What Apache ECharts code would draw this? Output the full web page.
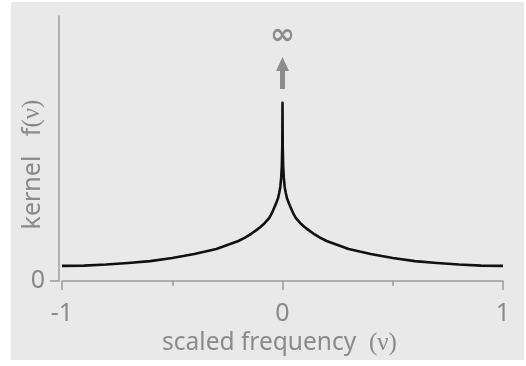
<!DOCTYPE html>
<html>
<head>
<meta charset="utf-8">
<script src="https://cdn.jsdelivr.net/npm/echarts@6/dist/echarts.min.js"></script>
<style>
  body { margin: 0; background: #fff; }
  #panel { position: absolute; left: 11px; top: 2px; width: 513px; height: 358px; background: #e9e9e9; }
  #main { position: absolute; left: 0; top: 0; width: 526px; height: 366px; }
</style>
</head>
<body>
<div id="panel"></div>
<div id="main"></div>
<script>
// scaled frequency (nu) and kernel height (peak is clipped)
let nuLeft = [-1, -0.9, -0.8, -0.7, -0.6, -0.5, -0.45, -0.4, -0.35, -0.3, -0.25, -0.2, -0.17, -0.14,
    -0.12, -0.1, -0.08, -0.06, -0.05, -0.04, -0.03, -0.02, -0.015, -0.01, -0.006, -0.003, -0.001];
let fLeft = [0.057, 0.058, 0.062, 0.068, 0.075, 0.087, 0.094, 0.102, 0.111, 0.121, 0.136, 0.151, 0.164, 0.179,
    0.191, 0.204, 0.219, 0.238, 0.253, 0.272, 0.291, 0.313, 0.332, 0.355, 0.389, 0.434, 0.509];
let peakValue = 0.672;
let xTicks = [-1, 0, 1];
let yTicks = [0];

let textGray = '#8a8a8a';
let axisGray = '#9b9b9b';
let sans = '"Noto Sans", sans-serif';
let serif = '"Liberation Serif", "DejaVu Serif", serif';

// build symmetric curve: left half, peak, mirrored right half
let curve = [];
nuLeft.forEach(function (v, i) { curve.push([v, fLeft[i]]); });
curve.push([0, peakValue]);
for (let i = nuLeft.length - 1; i >= 0; i--) {
    curve.push([-nuLeft[i], fLeft[i]]);
}

let myChart = echarts.init(document.getElementById('main'));

let option = {
    backgroundColor: 'transparent',
    animation: false,
    grid: { left: 62, right: 23, top: 16, bottom: 85, outerBoundsMode: 'none', containLabel: false },
    xAxis: {
        type: 'value',
        min: -1,
        max: 1,
        interval: 1,
        name: '{a|scaled frequency  }{b|(ν)}',
        nameLocation: 'middle',
        nameGap: 44,
        nameTextStyle: {
            padding: [0, 6, 0, 0],
            rich: {
                a: { fontFamily: sans, fontSize: 24.5, color: textGray },
                b: { fontFamily: serif, fontSize: 25, color: textGray }
            }
        },
        axisLine: { onZero: false, lineStyle: { color: axisGray, width: 1.5 } },
        axisTick: { show: true, length: 9, lineStyle: { color: axisGray, width: 1.5 } },
        minorTick: { show: true, splitNumber: 2, length: 5, lineStyle: { color: axisGray, width: 1.5 } },
        axisLabel: {
            margin: 20,
            fontFamily: sans,
            fontSize: 25,
            color: textGray,
            customValues: xTicks
        },
        splitLine: { show: false }
    },
    yAxis: {
        type: 'value',
        min: 0,
        max: 1,
        offset: 3,
        name: '{a|kernel   f}{b|(ν)}',
        nameLocation: 'middle',
        nameGap: 14,
        nameMoveOverlap: false,
        nameRotate: 90,
        nameTextStyle: {
            padding: [0, 32, 0, 0],
            rich: {
                a: { fontFamily: sans, fontSize: 25, color: textGray },
                b: { fontFamily: serif, fontSize: 25, color: textGray }
            }
        },
        axisLine: { show: true, onZero: false, lineStyle: { color: axisGray, width: 1.5 } },
        axisTick: { show: true, length: 9, customValues: yTicks, lineStyle: { color: axisGray, width: 1.5 } },
        axisLabel: {
            margin: 14,
            fontFamily: sans,
            fontSize: 25,
            color: textGray,
            customValues: yTicks
        },
        splitLine: { show: false }
    },
    series: [{
        type: 'line',
        data: curve,
        showSymbol: false,
        smooth: false,
        lineStyle: { color: '#111', width: 2.6, join: 'round' },
        markPoint: {
            silent: true,
            data: [
                {
                    coord: [0, 0.785],
                    symbol: 'path://M6.5,0 L13,14 L9,14 L9,32 L4,32 L4,14 L0,14 Z',
                    symbolSize: [13, 32],
                    itemStyle: { color: '#8c8c8c' },
                    label: { show: false }
                },
                {
                    coord: [0, 0.922],
                    symbol: 'circle',
                    symbolSize: 1,
                    itemStyle: { color: 'rgba(0,0,0,0)' },
                    label: {
                        show: true,
                        formatter: '∞',
                        fontFamily: '"DejaVu Sans", sans-serif',
                        fontSize: 30,
                        fontWeight: 'bold',
                        color: '#8c8c8c',
                        position: 'inside'
                    }
                }
            ]
        }
    }]
};

myChart.setOption(option, true);
</script>
</body>
</html>
